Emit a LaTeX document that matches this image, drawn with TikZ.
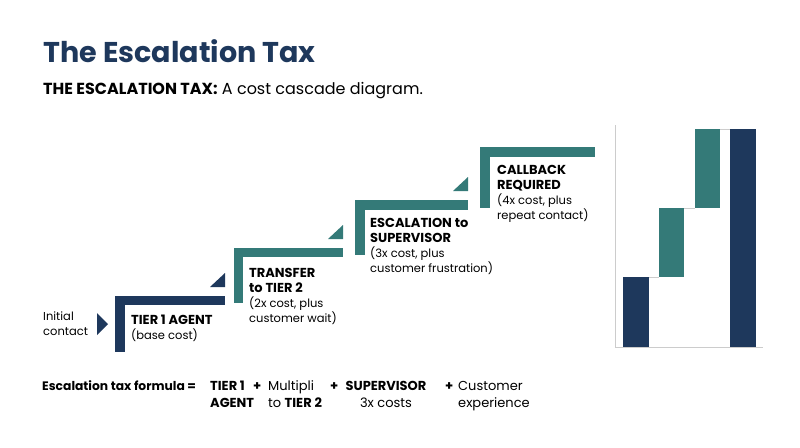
\documentclass[tikz,border=0pt]{standalone}
\usepackage{fontspec}
\setmainfont{Poppins}
\definecolor{stepnavy}{RGB}{30,56,92}
\definecolor{stepteal}{RGB}{52,122,120}
\newcommand{\stephead}[1]{{\fontsize{13}{15}\selectfont\bfseries #1}}
\begin{document}
\begin{tikzpicture}[x=1pt,y=-1pt,
  txt/.style={anchor=base west,inner sep=0pt,align=left,font=\fontsize{11.5}{15}\selectfont},
  formula/.style={anchor=base west,inner sep=0pt,align=left,font=\fontsize{13}{17}\selectfont}]
\useasboundingbox[fill=white] (0,0) rectangle (800,447);
\node[anchor=base west,inner sep=0pt,text=stepnavy,font=\fontsize{28.6}{34}\selectfont\bfseries] (title) at (43,62) {The Escalation Tax};
\node[anchor=base west,inner sep=0pt,font=\fontsize{16}{19}\selectfont] (subtitle) at (43,94) {\textbf{THE ESCALATION TAX:} A cost cascade diagram.};
\node[txt] (initial) at (43,335) {Initial\\contact};
\fill[stepnavy] (97,313) -- (108,324) -- (97,335) -- cycle;
\fill[stepnavy] (115,296) rectangle (225,305);
\fill[stepnavy] (115,296) rectangle (125,352);
\fill[stepnavy] (210,287) -- (225,287) -- (225,273) -- cycle;
\node[txt] (tier1) at (131,339) {\stephead{TIER 1 AGENT}\\(base cost)};
\fill[stepteal] (234,248) rectangle (343,257);
\fill[stepteal] (234,248) rectangle (243,303);
\fill[stepteal] (328,239) -- (343,239) -- (343,225) -- cycle;
\node[txt] (tier2) at (249,322) {\stephead{TRANSFER}\\\stephead{to TIER 2}\\(2x cost, plus\\customer wait)};
\fill[stepteal] (355,200) rectangle (468,210);
\fill[stepteal] (355,200) rectangle (365,255);
\fill[stepteal] (453,191) -- (468,191) -- (468,177) -- cycle;
\node[txt] (supervisor) at (370,272) {\stephead{ESCALATION to}\\\stephead{SUPERVISOR}\\(3x cost, plus\\customer frustration)};
\fill[stepteal] (480,147) rectangle (595,157);
\fill[stepteal] (480,147) rectangle (490,208);
\node[txt] (callback) at (497,219) {\stephead{CALLBACK}\\\stephead{REQUIRED}\\(4x cost, plus\\repeat contact)};
\draw[black!20,line width=0.8pt] (615,125) -- (615,347) -- (763,347);
\fill[stepnavy] (623,277) rectangle (649,347);
\fill[stepteal] (659,208) rectangle (684,277);
\fill[stepteal] (695,129) rectangle (720,208);
\fill[stepnavy] (730,129) rectangle (756,347);
\draw[black!20] (649,277) -- (659,277);
\draw[black!20] (684,208) -- (695,208);
\draw[black!20] (720,129) -- (730,129);
\node[formula,font=\fontsize{12.3}{17}\selectfont] (formula) at (42,390) {\textbf{Escalation tax formula =}};
\node[formula] (ftier1) at (210,407) {\textbf{TIER 1}\\\textbf{AGENT}};
\node[formula] (plus1) at (253,390) {\textbf{+}};
\node[formula] (ftier2) at (268,407) {Multipli\\to \textbf{TIER 2}};
\node[formula] (plus2) at (330,390) {\textbf{+}};
\node[formula,anchor=base,align=center] (fsuper) at (386,407) {\textbf{SUPERVISOR}\\3x costs};
\node[formula] (plus3) at (445,390) {\textbf{+}};
\node[formula] (fcustomer) at (458,407) {Customer\\experience};
\end{tikzpicture}
\end{document}
